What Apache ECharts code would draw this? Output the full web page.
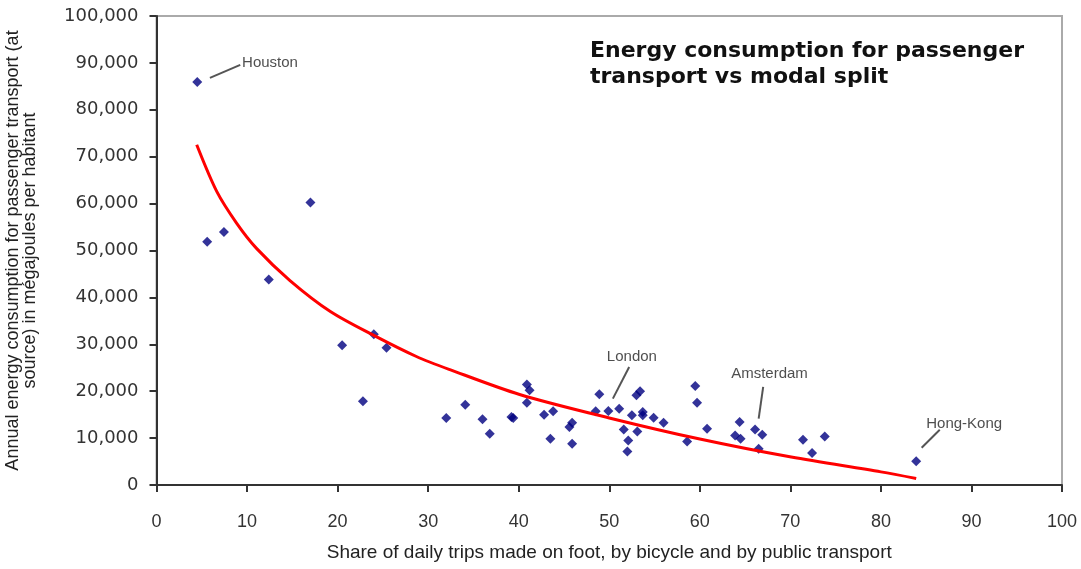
<!DOCTYPE html>
<html>
<head>
<meta charset="utf-8">
<script src="https://cdn.jsdelivr.net/npm/echarts@6/dist/echarts.min.js"></script>
<style>html,body{margin:0;padding:0;background:#fff}#c{width:1081px;height:569px}</style>
</head>
<body>
<div id="c"></div>
<script>
// Modal split share (%) of each city
var shareX = [4.5, 5.6, 7.45, 12.4, 17.0, 20.5, 22.8, 24.0, 25.4, 32.0,
  34.1, 36.0, 36.8, 39.2, 39.4, 40.9, 41.2, 40.9, 42.8, 43.8,
  43.5, 45.6, 45.9, 45.9, 48.5, 48.9, 49.9, 51.1, 51.6, 52.1,
  52.0, 52.5, 53.0, 53.4, 53.7, 53.7, 53.1, 54.9, 56.0, 59.5,
  59.7, 58.6, 60.8, 63.9, 64.4, 64.5, 66.1, 66.9, 66.5, 71.4,
  72.4, 73.8, 83.9];
// Energy consumption (MJ per inhabitant)
var energyY = [85940, 51880, 53950, 43800, 60210, 29810, 17840, 32160, 29240, 14280,
  17130, 14000, 10940, 14490, 14280, 21410, 20190, 17560, 15000, 15710,
  9870, 12350, 13290, 8800, 15710, 19340, 15770, 16280, 11860, 9510,
  7160, 14850, 19120, 19980, 15560, 14850, 11430, 14360, 13290, 21110,
  17560, 9290, 12000, 10580, 13420, 9870, 11860, 10730, 7740, 9660,
  6800, 10360, 5090];
// Trend curve
var trendX = [4.44, 6.65, 8.86, 11.07, 14.74, 19.2, 24.0, 28.7, 32.4, 40.1, 50.0, 60.0, 70.1, 80.0, 83.9];
var trendY = [72540, 62600, 55800, 50400, 43600, 37000, 31900, 27400, 24600, 19300, 14300, 9800, 5950, 2800, 1400];
// City annotations
var cityNames = ['Houston', 'London', 'Amsterdam', 'Hong-Kong'];
var cityLabelX = [9.45, 52.5, 67.7, 89.2];
var cityLabelY = [90060, 27300, 23760, 13080];
var cityLabelPos = ['right', 'inside', 'inside', 'inside'];
var leaderFrom = [[5.9, 86790], [50.4, 18420], [66.5, 14150], [84.5, 7950]];
var leaderTo = [[9.25, 89570], [52.2, 25170], [67.0, 20900], [86.5, 11790]];
var titleLines = ['Energy consumption for passenger', 'transport vs modal split'];
var xTicks = [0, 100, 10];
var yTicks = [0, 100000, 10000];

var pts = shareX.map(function (x, i) { return [x, energyY[i]]; });
var trend = trendX.map(function (x, i) { return [x, trendY[i]]; });
var labels = cityNames.map(function (n, i) {
  return { name: n, value: [cityLabelX[i], cityLabelY[i]],
    label: { position: cityLabelPos[i], distance: 0 } };
});
var leaders = leaderFrom.map(function (f, i) { return { coords: [f, leaderTo[i]] }; });

var chart = echarts.init(document.getElementById('c'));
chart.setOption({
  animation: false,
  backgroundColor: '#fff',
  title: {
    text: titleLines.join('\n'),
    left: 585, top: 33,
    textStyle: { fontFamily: 'DejaVu Sans', fontWeight: 'bold', fontSize: 22, lineHeight: 26, color: '#111' }
  },
  grid: { left: 156.5, right: 19, top: 16, bottom: 84, show: true, borderColor: '#aaa', borderWidth: 2,
    containLabel: false, outerBoundsMode: 'none' },
  xAxis: {
    type: 'value', min: xTicks[0], max: xTicks[1], interval: xTicks[2],
    name: 'Share of daily trips made on foot, by bicycle and by public transport',
    nameLocation: 'middle', nameGap: 58,
    nameTextStyle: { fontFamily: 'Liberation Sans', fontSize: 19, color: '#222' },
    axisLine: { lineStyle: { color: '#333', width: 2 } },
    axisTick: { show: true, inside: false, length: 7, lineStyle: { color: '#333', width: 2 } },
    axisLabel: { margin: 28, fontFamily: 'Liberation Sans', fontSize: 18, color: '#333' },
    splitLine: { show: false }
  },
  yAxis: {
    type: 'value', min: yTicks[0], max: yTicks[1], interval: yTicks[2],
    name: 'Annual energy consumption for passenger transport (at\nsource) in mégajoules per habitant',
    nameLocation: 'middle', nameGap: 118,
    nameTextStyle: { fontFamily: 'Liberation Sans', fontSize: 18, lineHeight: 17, color: '#222' },
    axisLine: { show: true, lineStyle: { color: '#333', width: 2 } },
    axisTick: { show: true, inside: false, length: 7, lineStyle: { color: '#333', width: 2 } },
    axisLabel: {
      margin: 18, fontFamily: 'DejaVu Sans', fontSize: 18, color: '#333',
      formatter: function (v) { return v.toLocaleString('en-US'); }
    },
    splitLine: { show: false }
  },
  series: [
    {
      type: 'scatter', data: pts, symbol: 'diamond', symbolSize: 10,
      itemStyle: { color: '#000080' }, z: 2
    },
    {
      type: 'line', data: trend, smooth: 0.3, showSymbol: false, symbol: 'none',
      lineStyle: { color: '#ff0000', width: 3 }, z: 3
    },
    {
      type: 'lines', coordinateSystem: 'cartesian2d', data: leaders,
      lineStyle: { color: '#555', width: 2, opacity: 1 }, z: 4
    },
    {
      type: 'scatter', data: labels, symbolSize: 0, z: 5,
      label: {
        show: true, formatter: '{b}', color: '#222',
        fontFamily: 'Liberation Sans', fontSize: 15
      }
    }
  ]
});
</script>
</body>
</html>
